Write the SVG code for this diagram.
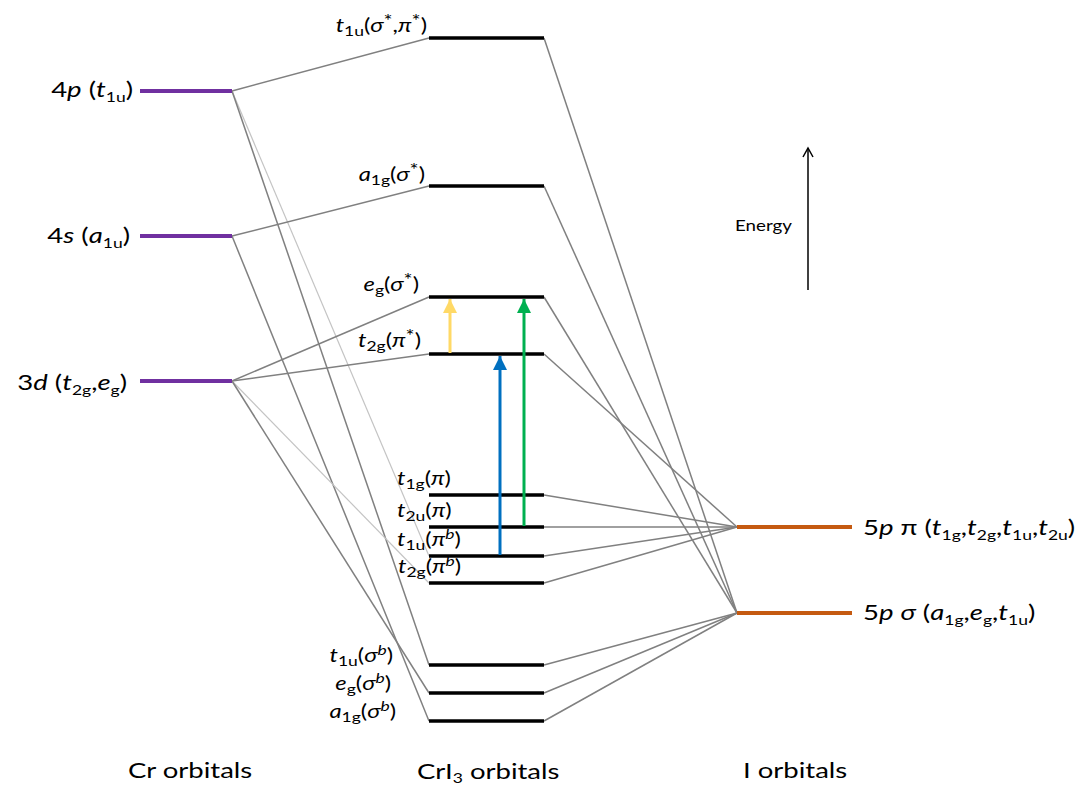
<svg xmlns="http://www.w3.org/2000/svg" width="1086" height="786" viewBox="0 0 1086 786">
  <defs>
    <style>
      text { font-family: Lato, "Open Sans", "Liberation Sans", sans-serif; fill: #000; }
      .big { font-size: 22px; }
      .mid { font-size: 19px; }
      .i { font-style: italic; }
      .sb { font-size: 14px; }
      .sp { font-size: 14px; }
      .st { font-size: 17px; }
      .cr { stroke: #7030A0; stroke-width: 4; }
      .mo { stroke: #000; stroke-width: 3.5; }
      .io { stroke: #C55A11; stroke-width: 4; }
      .ln { stroke: #808080; stroke-width: 1.5; fill: none; }
      .lt { stroke: #c4c4c4; stroke-width: 1.2; fill: none; }
    </style>
    <marker id="headY" markerWidth="14" markerHeight="14" viewBox="0 0 14 14" refX="7" refY="0" markerUnits="userSpaceOnUse">
      <path d="M0,14 L7,0 L14,14 Z" fill="#FFD966"/>
    </marker>
    <marker id="headG" markerWidth="14" markerHeight="14" viewBox="0 0 14 14" refX="7" refY="0" markerUnits="userSpaceOnUse">
      <path d="M0,14 L7,0 L14,14 Z" fill="#00B050"/>
    </marker>
    <marker id="headB" markerWidth="14" markerHeight="14" viewBox="0 0 14 14" refX="7" refY="0" markerUnits="userSpaceOnUse">
      <path d="M0,14 L7,0 L14,14 Z" fill="#0070C0"/>
    </marker>
  </defs>

  <!-- correlation lines -->
  <g id="connectors">
    <!-- Cr 4p -->
    <line class="ln" x1="232" y1="91" x2="429" y2="38"/>
    <line class="lt" x1="232" y1="91" x2="429" y2="556"/>
    <line class="ln" x1="232" y1="91" x2="429" y2="665"/>
    <!-- Cr 4s -->
    <line class="ln" x1="232" y1="236" x2="429" y2="186"/>
    <line class="ln" x1="232" y1="236" x2="429" y2="721"/>
    <!-- Cr 3d -->
    <line class="ln" x1="232" y1="381" x2="429" y2="297"/>
    <line class="ln" x1="232" y1="381" x2="429" y2="354"/>
    <line class="lt" x1="232" y1="381" x2="429" y2="583"/>
    <line class="ln" x1="232" y1="381" x2="429" y2="693"/>
    <!-- I 5p sigma -->
    <line class="ln" x1="544" y1="38" x2="737" y2="613"/>
    <line class="ln" x1="544" y1="186" x2="737" y2="613"/>
    <line class="ln" x1="544" y1="297" x2="737" y2="613"/>
    <line class="ln" x1="544" y1="665" x2="737" y2="613"/>
    <line class="ln" x1="544" y1="693" x2="737" y2="613"/>
    <line class="ln" x1="544" y1="721" x2="737" y2="613"/>
    <!-- I 5p pi -->
    <line class="ln" x1="544" y1="354" x2="737" y2="527"/>
    <line class="ln" x1="544" y1="495" x2="737" y2="527"/>
    <line class="ln" x1="544" y1="527" x2="737" y2="527"/>
    <line class="ln" x1="544" y1="556" x2="737" y2="527"/>
    <line class="ln" x1="544" y1="583" x2="737" y2="527"/>
  </g>

  <!-- Cr atomic orbitals -->
  <g id="cr-4p">
    <line class="cr" x1="140" y1="91" x2="232" y2="91"/>
    <text class="big" transform="translate(133,97) scale(1.25,1)" text-anchor="end">4<tspan class="i">p</tspan> (<tspan class="i">t</tspan><tspan class="sb" dy="5">1u</tspan><tspan dy="-5">)</tspan></text>
  </g>
  <g id="cr-4s">
    <line class="cr" x1="140" y1="236" x2="232" y2="236"/>
    <text class="big" transform="translate(130,243) scale(1.25,1)" text-anchor="end">4<tspan class="i">s</tspan> (<tspan class="i">a</tspan><tspan class="sb" dy="5">1u</tspan><tspan dy="-5">)</tspan></text>
  </g>
  <g id="cr-3d">
    <line class="cr" x1="140" y1="381" x2="232" y2="381"/>
    <text class="big" transform="translate(127,390) scale(1.25,1)" text-anchor="end">3<tspan class="i">d</tspan> (<tspan class="i">t</tspan><tspan class="sb" dy="5">2g</tspan><tspan dy="-5">,</tspan><tspan class="i">e</tspan><tspan class="sb" dy="5">g</tspan><tspan dy="-5">)</tspan></text>
  </g>

  <!-- CrI3 molecular orbitals -->
  <g id="mo-t1u-anti">
    <line class="mo" x1="429" y1="38" x2="544" y2="38"/>
    <text class="mid" transform="translate(427,32) scale(1.25,1)" text-anchor="end"><tspan class="i">t</tspan><tspan class="sb" dy="4">1u</tspan><tspan dy="-4">(</tspan><tspan class="i">σ</tspan><tspan class="st" dy="-5">*</tspan><tspan dy="5">,</tspan><tspan class="i">π</tspan><tspan class="st" dy="-5">*</tspan><tspan dy="5">)</tspan></text>
  </g>
  <g id="mo-a1g-anti">
    <line class="mo" x1="429" y1="186" x2="544" y2="186"/>
    <text class="mid" transform="translate(425,181) scale(1.25,1)" text-anchor="end"><tspan class="i">a</tspan><tspan class="sb" dy="4">1g</tspan><tspan dy="-4">(</tspan><tspan class="i">σ</tspan><tspan class="st" dy="-5">*</tspan><tspan dy="5">)</tspan></text>
  </g>
  <g id="mo-eg-anti">
    <line class="mo" x1="429" y1="297" x2="544" y2="297"/>
    <text class="mid" transform="translate(419,291) scale(1.25,1)" text-anchor="end"><tspan class="i">e</tspan><tspan class="sb" dy="4">g</tspan><tspan dy="-4">(</tspan><tspan class="i">σ</tspan><tspan class="st" dy="-5">*</tspan><tspan dy="5">)</tspan></text>
  </g>
  <g id="mo-t2g-anti">
    <line class="mo" x1="429" y1="354" x2="544" y2="354"/>
    <text class="mid" transform="translate(421,347) scale(1.25,1)" text-anchor="end"><tspan class="i">t</tspan><tspan class="sb" dy="4">2g</tspan><tspan dy="-4">(</tspan><tspan class="i">π</tspan><tspan class="st" dy="-5">*</tspan><tspan dy="5">)</tspan></text>
  </g>
  <g id="mo-t1g-pi">
    <line class="mo" x1="429" y1="495" x2="544" y2="495"/>
    <text class="mid" transform="translate(397,485) scale(1.25,1)"><tspan class="i">t</tspan><tspan class="sb" dy="4">1g</tspan><tspan dy="-4">(</tspan><tspan class="i">π</tspan>)</text>
  </g>
  <g id="mo-t2u-pi">
    <line class="mo" x1="429" y1="527" x2="544" y2="527"/>
    <text class="mid" transform="translate(397,517) scale(1.25,1)"><tspan class="i">t</tspan><tspan class="sb" dy="4">2u</tspan><tspan dy="-4">(</tspan><tspan class="i">π</tspan>)</text>
  </g>
  <g id="mo-t1u-pib">
    <line class="mo" x1="429" y1="556" x2="544" y2="556"/>
    <text class="mid" transform="translate(397,546) scale(1.25,1)"><tspan class="i">t</tspan><tspan class="sb" dy="4">1u</tspan><tspan dy="-4">(</tspan><tspan class="i">π</tspan><tspan class="sp i" dy="-7">b</tspan><tspan dy="7">)</tspan></text>
  </g>
  <g id="mo-t2g-pib">
    <line class="mo" x1="429" y1="583" x2="544" y2="583"/>
    <text class="mid" transform="translate(398,573) scale(1.25,1)"><tspan class="i">t</tspan><tspan class="sb" dy="4">2g</tspan><tspan dy="-4">(</tspan><tspan class="i">π</tspan><tspan class="sp i" dy="-7">b</tspan><tspan dy="7">)</tspan></text>
  </g>
  <g id="mo-t1u-sigb">
    <line class="mo" x1="429" y1="665" x2="544" y2="665"/>
    <text class="mid" transform="translate(393,662) scale(1.25,1)" text-anchor="end"><tspan class="i">t</tspan><tspan class="sb" dy="4">1u</tspan><tspan dy="-4">(</tspan><tspan class="i">σ</tspan><tspan class="sp i" dy="-7">b</tspan><tspan dy="7">)</tspan></text>
  </g>
  <g id="mo-eg-sigb">
    <line class="mo" x1="429" y1="693" x2="544" y2="693"/>
    <text class="mid" transform="translate(391,690) scale(1.25,1)" text-anchor="end"><tspan class="i">e</tspan><tspan class="sb" dy="4">g</tspan><tspan dy="-4">(</tspan><tspan class="i">σ</tspan><tspan class="sp i" dy="-7">b</tspan><tspan dy="7">)</tspan></text>
  </g>
  <g id="mo-a1g-sigb">
    <line class="mo" x1="429" y1="721" x2="544" y2="721"/>
    <text class="mid" transform="translate(396,718) scale(1.25,1)" text-anchor="end"><tspan class="i">a</tspan><tspan class="sb" dy="4">1g</tspan><tspan dy="-4">(</tspan><tspan class="i">σ</tspan><tspan class="sp i" dy="-7">b</tspan><tspan dy="7">)</tspan></text>
  </g>

  <!-- I atomic orbitals -->
  <g id="i-5p-pi">
    <line class="io" x1="737" y1="527" x2="852" y2="527"/>
    <text class="big" transform="translate(863,535) scale(1.25,1)">5<tspan class="i">p</tspan> π (<tspan class="i">t</tspan><tspan class="sb" dy="5">1g</tspan><tspan dy="-5">,</tspan><tspan class="i">t</tspan><tspan class="sb" dy="5">2g</tspan><tspan dy="-5">,</tspan><tspan class="i">t</tspan><tspan class="sb" dy="5">1u</tspan><tspan dy="-5">,</tspan><tspan class="i">t</tspan><tspan class="sb" dy="5">2u</tspan><tspan dy="-5">)</tspan></text>
  </g>
  <g id="i-5p-sigma">
    <line class="io" x1="737" y1="613" x2="852" y2="613"/>
    <text class="big" transform="translate(863,620) scale(1.25,1)">5<tspan class="i">p</tspan> <tspan class="i">σ</tspan> (<tspan class="i">a</tspan><tspan class="sb" dy="5">1g</tspan><tspan dy="-5">,</tspan><tspan class="i">e</tspan><tspan class="sb" dy="5">g</tspan><tspan dy="-5">,</tspan><tspan class="i">t</tspan><tspan class="sb" dy="5">1u</tspan><tspan dy="-5">)</tspan></text>
  </g>

  <!-- optical transitions -->
  <g id="transitions">
    <line x1="450" y1="353" x2="450" y2="299" stroke="#FFD966" stroke-width="3" marker-end="url(#headY)"/>
    <line x1="524" y1="526" x2="524" y2="299" stroke="#00B050" stroke-width="3" marker-end="url(#headG)"/>
    <line x1="500" y1="555" x2="500" y2="356" stroke="#0070C0" stroke-width="3" marker-end="url(#headB)"/>
  </g>

  <!-- energy axis -->
  <g id="energy-axis">
    <line x1="808" y1="290" x2="808" y2="148" stroke="#000" stroke-width="1.5"/>
    <path d="M803,157 L808,148 L813,157" fill="none" stroke="#000" stroke-width="1.5"/>
    <text transform="translate(735,231) scale(1.25,1)" font-size="15">Energy</text>
  </g>

  <!-- column titles -->
  <g id="titles">
    <text class="big" transform="translate(128,778) scale(1.25,1)">Cr orbitals</text>
    <text class="big" transform="translate(417,779) scale(1.25,1)">CrI<tspan class="sb" dy="4">3</tspan><tspan dy="-4"> orbitals</tspan></text>
    <text class="big" transform="translate(743,778) scale(1.25,1)">I orbitals</text>
  </g>
</svg>
